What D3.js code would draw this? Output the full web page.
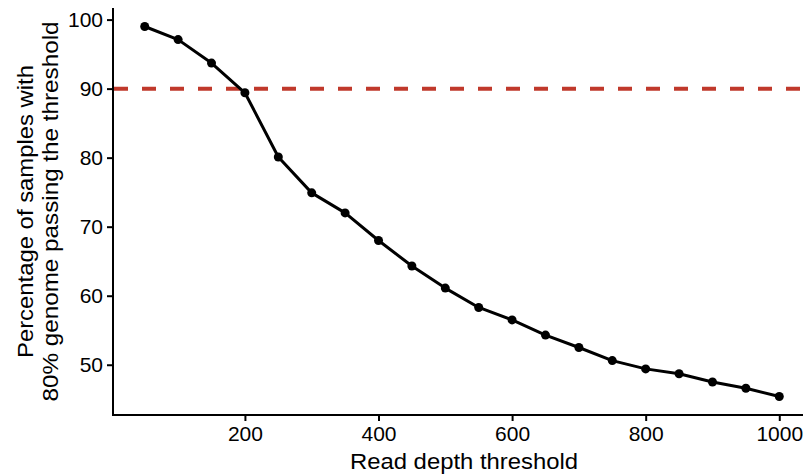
<!DOCTYPE html>
<html>
<head>
<meta charset="utf-8">
<script src="https://cdn.jsdelivr.net/npm/d3@7"></script>
<style>
  body { margin: 0; background: #fff; }
  svg { display: block; }
  text { font-family: "Liberation Sans", Arial, Helvetica, sans-serif; fill: #000; }
</style>
</head>
<body>
<svg id="chart" width="803" height="476"></svg>
<script>
    // read depth thresholds and % of samples with 80% genome covered
    const thresholds = [50, 100, 150, 200, 250, 300, 350, 400, 450, 500,
                        550, 600, 650, 700, 750, 800, 850, 900, 950, 1000]
    const percentPassing = [99.0, 97.1, 93.7, 89.4, 80.1, 74.9, 72.0, 68.0, 64.3, 61.1,
                            58.3, 56.5, 54.3, 52.5, 50.6, 49.4, 48.7, 47.5, 46.6, 45.4]
    const cutoff = 90
    const xTicks = [200, 400, 600, 800, 1000]
    const yTicks = [50, 60, 70, 80, 90, 100]
    const xLabel = "Read depth threshold"
    const yLabel = ["Percentage of samples with", "80% genome passing the threshold"]

    const svg = d3.select("#chart")
    const panelLeft = 113, panelRight = 811, panelTop = 8, panelBottom = 415

    // ggplot style 5% expansion of the data range
    const expand = (ext) => {
        let pad = (ext[1] - ext[0]) * 0.05
        return [ext[0] - pad, ext[1] + pad]
    }

    let xScale = d3.scaleLinear()
        .domain(expand(d3.extent(thresholds)))
        .range([panelLeft, panelRight])
    let yScale = d3.scaleLinear()
        .domain(expand(d3.extent(percentPassing)))
        .range([panelBottom, panelTop])

    let data = thresholds.map((x, i) => {
        return { x: x, y: percentPassing[i] }
    })

    // axes
    let xAxis = svg.append("g")
        .attr("transform", `translate(0,${panelBottom})`)
        .call(d3.axisBottom(xScale).tickValues(xTicks).tickFormat(d3.format("d"))
            .tickSize(6).tickPadding(5).tickSizeOuter(0))
    let yAxis = svg.append("g")
        .attr("transform", `translate(${panelLeft},0)`)
        .call(d3.axisLeft(yScale).tickValues(yTicks).tickFormat(d3.format("d"))
            .tickSize(6).tickPadding(4).tickSizeOuter(0))

    for (let ax of [xAxis, yAxis]) {
        ax.select(".domain").attr("stroke", "#000").attr("stroke-width", 2)
        ax.selectAll(".tick line").attr("stroke", "#000").attr("stroke-width", 2)
        ax.selectAll(".tick text").attr("font-size", 21).attr("fill", "#000")
    }
    // make the two axis lines meet in the corner
    xAxis.select(".domain").attr("d", `M${panelLeft - 1},0H${panelRight}`)
    yAxis.select(".domain").attr("d", `M0,${panelTop}V${panelBottom + 1}`)

    // 90% reference line
    svg.append("line")
        .attr("x1", panelLeft + 1)
        .attr("x2", panelRight)
        .attr("y1", yScale(cutoff))
        .attr("y2", yScale(cutoff))
        .attr("stroke", "#c0392b")
        .attr("stroke-width", 4)
        .attr("stroke-dasharray", "14,14")

    // series
    svg.append("path")
        .datum(data)
        .attr("fill", "none")
        .attr("stroke", "#000")
        .attr("stroke-width", 3)
        .attr("stroke-linejoin", "round")
        .attr("d", d3.line()
            .x(d => xScale(d.x))
            .y(d => yScale(d.y))
        )

    svg.append("g")
        .selectAll("circle")
        .data(data)
        .enter()
        .append("circle")
        .attr("cx", d => xScale(d.x))
        .attr("cy", d => yScale(d.y))
        .attr("r", 4.5)
        .attr("fill", "#000")

    // titles (the original font is a bit wider than Arial, so stretch to its widths)
    svg.append("text")
        .attr("x", 464)
        .attr("y", 469)
        .attr("text-anchor", "middle")
        .attr("font-size", 21.5)
        .attr("textLength", 228)
        .attr("lengthAdjust", "spacingAndGlyphs")
        .text(xLabel)

    const yLabelWidths = [293, 380]
    let yTitle = svg.append("text")
        .attr("transform", `translate(0,${(panelTop + panelBottom) / 2}) rotate(-90)`)
        .attr("text-anchor", "middle")
        .attr("font-size", 21.5)
    yTitle.selectAll("tspan")
        .data(yLabel)
        .enter()
        .append("tspan")
        .attr("x", 0)
        .attr("y", (d, i) => 33 + i * 25)
        .attr("textLength", (d, i) => yLabelWidths[i])
        .attr("lengthAdjust", "spacingAndGlyphs")
        .text(d => d)
</script>
</body>
</html>
